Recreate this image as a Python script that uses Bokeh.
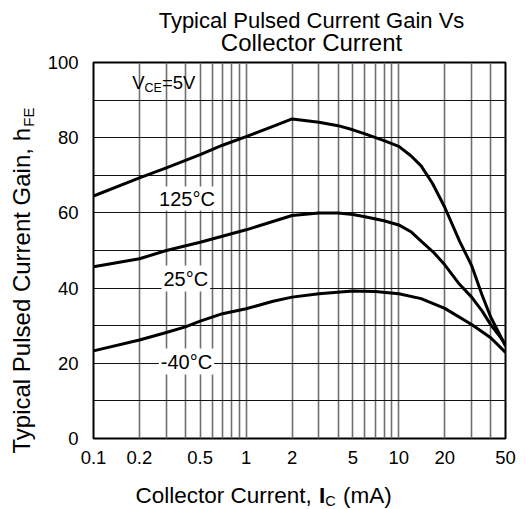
from bokeh.plotting import figure
from bokeh.models import Label, FixedTicker, CustomJSTickFormatter, Range1d
from bokeh.embed import file_html
from bokeh.resources import INLINE

# ---------------- data ----------------
ic_125 = [0.1, 0.2, 0.3, 0.5, 0.7, 1, 1.5, 2, 3, 4, 5, 6, 8, 10, 12, 14, 16.6, 20, 25, 30, 35, 40, 45, 50]
hfe_125 = [64.5, 69.3, 72.0, 75.5, 78.0, 80.3, 83.0, 85.0, 84.1, 83.2, 82.1, 81.0, 79.2, 77.7, 75.2, 72.5, 67.9, 61.5, 52.5, 46.0, 38.3, 32.3, 28.3, 24.6]

ic_25 = [0.1, 0.2, 0.3, 0.5, 1, 2, 3, 4, 5, 6, 8, 10, 12, 14, 17, 20, 25, 30, 35, 40, 45, 50]
hfe_25 = [45.7, 47.8, 50.0, 52.2, 55.5, 59.3, 60.0, 60.0, 59.6, 59.0, 57.9, 56.8, 55.0, 52.5, 49.4, 46.2, 41.0, 37.6, 34.0, 30.3, 27.6, 25.0]

ic_m40 = [0.1, 0.2, 0.3, 0.4, 0.5, 0.7, 1, 1.5, 2, 3, 5, 7, 10, 14, 20, 30, 40, 50]
hfe_m40 = [23.3, 26.2, 28.2, 29.7, 31.2, 33.2, 34.5, 36.5, 37.6, 38.5, 39.2, 39.1, 38.5, 37.2, 34.6, 30.3, 26.8, 22.9]

x_ticks = [0.1, 0.2, 0.5, 1, 2, 5, 10, 20, 50]
x_grid = [0.1, 0.2, 0.3, 0.4, 0.5, 0.6, 0.7, 0.8, 0.9, 1, 2, 3, 4, 5, 6, 7, 8, 9, 10, 20, 30, 40, 50]
y_ticks = [0, 20, 40, 60, 80, 100]
y_grid = [0, 10, 20, 30, 40, 50, 60, 70, 80, 90, 100]

title_lines = ["Typical Pulsed Current Gain Vs", "Collector Current"]
temp_labels = ["125°C", "25°C", "-40°C"]

FONT = "Liberation Sans"
NB = "\u00a0"

# Arial / Liberation Sans advance widths (per 1000 em)
AW = {' ': 278, NB: 278, ',': 278, '(': 333, ')': 333, '=': 584, '°': 400, '-': 333, '.': 278,
      'A': 667, 'C': 722, 'E': 667, 'F': 611, 'G': 778, 'I': 278, 'P': 667, 'T': 611, 'V': 667,
      'a': 556, 'b': 556, 'c': 500, 'd': 556, 'e': 556, 'h': 556, 'i': 222, 'l': 222, 'm': 833,
      'n': 556, 'o': 556, 'p': 556, 'r': 333, 's': 500, 't': 278, 'u': 556, 'y': 500}
for d in "0123456789":
    AW[d] = 556


def tw(s, size):
    return sum(AW.get(c, 556) for c in s) / 1000.0 * size


MID = 0.346  # distance (em) from text middle to alphabetic baseline

W, H = 526, 509
FL, FT, FW, FH = 93, 62, 412, 376   # frame in window pixels
FB = FT + FH

p = figure(x_axis_type="log", x_range=Range1d(0.1, 50), y_range=Range1d(0, 100),
           frame_width=FW, frame_height=FH,
           min_border_left=FL, min_border_top=FT,
           min_border_right=W - FL - FW, min_border_bottom=H - FT - FH,
           output_backend="svg", toolbar_location=None, title=None)
p.background_fill_color = "white"
p.border_fill_color = "white"
p.outline_line_color = "black"
p.outline_line_width = 2

p.xgrid.ticker = FixedTicker(ticks=x_grid)
p.xgrid.grid_line_color = "#6f6f6f"
p.xgrid.grid_line_width = 1.6
p.ygrid.ticker = FixedTicker(ticks=y_grid)
p.ygrid.grid_line_color = "#111111"
p.ygrid.grid_line_width = 1.2

p.xaxis.ticker = FixedTicker(ticks=x_ticks)
p.xaxis.formatter = CustomJSTickFormatter(code="return String(tick)")
p.yaxis.ticker = FixedTicker(ticks=y_ticks)

for ax in (p.xaxis, p.yaxis):
    ax.axis_line_color = None
    ax.major_tick_line_color = None
    ax.minor_tick_line_color = None
    ax.major_tick_out = 0
    ax.major_tick_in = 0
    ax.major_label_text_font = FONT
    ax.major_label_text_font_size = "18.5px"
    ax.major_label_text_color = "black"
p.xaxis.major_label_standoff = 12
p.yaxis.major_label_standoff = 15

for xs, ys in ((ic_125, hfe_125), (ic_25, hfe_25), (ic_m40, hfe_m40)):
    p.line(xs, ys, line_color="black", line_width=3, line_join="round")


def lab(text, wx, base, size, side="center", bold=False, align="left", angle=0,
        bg=None, pad=0, alpha=1.0):
    """Label anchored at the frame's lower-left data corner, offset in pixels.
    wx: window x of the anchor, base: window coordinate of the text baseline."""
    if angle:
        sx = base - MID * size   # rotated: baseline is to the right of the middle
        sy = wx
        xo, yo = sx - FL, FB - sy
    else:
        sy = base - MID * size
        xo, yo = wx - FL, FB - sy
    kw = dict(x=0.1, y=0, x_units="data", y_units="data", x_offset=xo, y_offset=yo,
              text=text, text_font=FONT, text_font_size=f"{size}px", text_color="black",
              text_alpha=alpha, text_align=align, text_baseline="middle",
              text_font_style="bold" if bold else "normal")
    if angle:
        kw.update(angle=angle, angle_units="deg")
    if bg:
        kw.update(background_fill_color=bg, padding=pad)
    lbl = Label(**kw)
    p.add_layout(lbl, side)


# ---------------- title (two centred lines, above the frame) ----------------
lab(title_lines[0], 311, 27.3, 22, side="above", align="center")
lab(title_lines[1], 311, 50.7, 24, side="above", align="center")

# ---------------- x axis label: Collector Current, I_C (mA) ----------------
XS = 22.5
x0, xb = 135, 503
part1 = "Collector Current," + NB
gap = NB * 3
lab(part1 + gap + NB + "(mA)", x0, xb, XS, side="below")
xi = x0 + tw(part1, XS) + 1
lab("I", xi, xb, XS, side="right", bold=True)
lab("C", xi + tw("I", XS), xb + 2.5, 14.5, side="right")

# ---------------- y axis label (rotated): Typical Pulsed Current Gain, h_FE ----------------
YS = 24
ybx, y0 = 29, 453
part_y = "Typical Pulsed Current Gain, h"
lab(part_y, y0, ybx, YS, side="left", angle=90)
lab("FE", y0 - tw(part_y, YS), ybx + 4, 15, side="left", angle=90)

# ---------------- V_CE = 5V with white box ----------------
VS = 18.5
vx, vy = 131.7, 88.3
lab("V" + NB * 2 + "=5V", vx, vy, VS, bg="white", pad=4, alpha=0.0)
lab("V", vx, vy, VS)
lab("CE", vx + tw("V", VS), vy + 3.5, 12.5)
lab("=5V", vx + tw("V", VS) + tw("CE", 12.5), vy, VS)

# ---------------- temperature labels ----------------
temp_pos = [(186.5, 205.0, 1), (185.3, 285.0, 2), (186.0, 368.0, 2)]
for t, (wx, wy, pd) in zip(temp_labels, temp_pos):
    lab(t, wx, wy, 20, align="center", bg="white", pad=pd)

open("out.html", "w").write(file_html(p, INLINE))
